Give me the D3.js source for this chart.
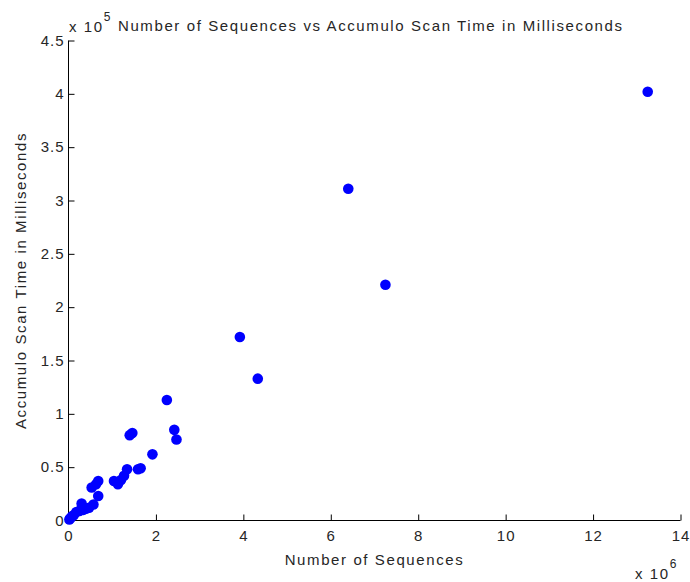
<!DOCTYPE html>
<html>
<head>
<meta charset="utf-8">
<script src="https://cdn.jsdelivr.net/npm/d3@7"></script>
<style>
  body { margin: 0; background: #fff; }
  svg text { font-family: "Liberation Sans", Arial, sans-serif; fill: #262626; }
</style>
</head>
<body>
<svg id="chart" width="690" height="582"></svg>
<script>
// sequences in units of 1e6, scan time in units of 1e5 ms
var sequences = [13.25, 6.40, 7.25, 3.92, 4.33, 2.25, 2.42, 2.47, 1.40, 1.46,
                 1.92, 1.59, 1.65, 1.34, 1.27, 1.20, 1.13, 1.04, 0.68, 0.63,
                 0.53, 0.68, 0.57, 0.47, 0.40, 0.30, 0.34, 0.25, 0.18, 0.12,
                 0.08, 0.04, 0.02]
var scanTime = [4.02, 3.11, 2.21, 1.72, 1.33, 1.13, 0.85, 0.76, 0.80, 0.82,
                0.62, 0.48, 0.49, 0.48, 0.42, 0.38, 0.34, 0.37, 0.37, 0.34,
                0.31, 0.23, 0.15, 0.12, 0.11, 0.16, 0.10, 0.09, 0.08, 0.05,
                0.04, 0.02, 0.01]
var xTicks = [0, 2, 4, 6, 8, 10, 12, 14]
var yTicks = [0, 0.5, 1, 1.5, 2, 2.5, 3, 3.5, 4, 4.5]

var svg = d3.select("#chart")
var plotLeft = 68.5, plotRight = 680.5, plotTop = 40.5, plotBottom = 520.5

var x = d3.scaleLinear().domain([0, 14]).range([plotLeft, plotRight])
var y = d3.scaleLinear().domain([0, 4.5]).range([plotBottom, plotTop])

// x axis, ticks point inward like matlab
var xAxis = svg.append("g")
    .attr("transform", "translate(0," + plotBottom + ")")
    .call(d3.axisBottom(x).tickValues(xTicks).tickSize(-6).tickPadding(10)
        .tickFormat(d3.format("d")))
xAxis.select(".domain").attr("d", "M" + plotLeft + ",0H" + plotRight)

var yAxis = svg.append("g")
    .attr("transform", "translate(" + plotLeft + ",0)")
    .call(d3.axisLeft(y).tickValues(yTicks).tickSize(-6).tickPadding(4)
        .tickFormat(function(d) { return d3.format("")(d) }))
yAxis.select(".domain").attr("d", "M0," + plotBottom + "V" + plotTop)

svg.selectAll(".tick text")
    .style("font-size", "15px")
    .style("letter-spacing", "1px")
    .attr("fill", "#262626")
svg.selectAll(".domain, .tick line").attr("stroke", "#000")

// points
svg.append("g").selectAll("circle")
    .data(sequences)
    .enter().append("circle")
    .attr("cx", function(d) { return x(d) })
    .attr("cy", function(d, i) { return y(scanTime[i]) })
    .attr("r", 5.3)
    .attr("fill", "#0000ff")

// title and labels
function label(sel) {
    return sel.style("font-size", "15px").style("letter-spacing", "1.6px")
}

label(svg.append("text"))
    .attr("x", 118).attr("y", 31)
    .text("Number of Sequences vs Accumulo Scan Time in Milliseconds")

var yExp = label(svg.append("text")).attr("x", 69).attr("y", 32)
yExp.append("tspan").text("x 10")
yExp.append("tspan").attr("dy", -11).style("font-size", "12px").text("5")

var xExp = label(svg.append("text")).attr("x", 635).attr("y", 579)
xExp.append("tspan").text("x 10")
xExp.append("tspan").attr("dy", -11).style("font-size", "12px").text("6")

label(svg.append("text"))
    .attr("x", x(7)).attr("y", 565)
    .attr("text-anchor", "middle")
    .text("Number of Sequences")

label(svg.append("text"))
    .attr("transform", "translate(26," + y(2.25) + ") rotate(-90)")
    .attr("text-anchor", "middle")
    .text("Accumulo Scan Time in Milliseconds")
</script>
</body>
</html>
